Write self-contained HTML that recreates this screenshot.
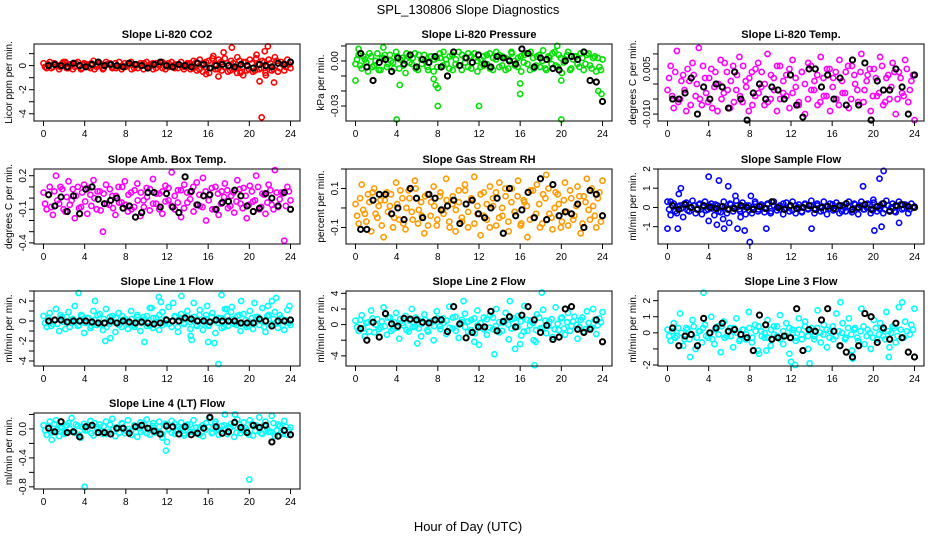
<!DOCTYPE html>
<html><head><meta charset="utf-8"><style>
body{margin:0;background:#fff;}
svg{display:block;font-family:"Liberation Sans",sans-serif;}
</style></head><body>
<svg id="chart" width="936" height="540" viewBox="0 0 936 540">
<text x="468" y="14" text-anchor="middle" font-size="13">SPL_130806  Slope Diagnostics</text>
<text x="468" y="531" text-anchor="middle" font-size="13">Hour of Day (UTC)</text>
<g id="panels"></g>
</svg>
<script>
// x-axis ticks
const xTicks=[0,4,8,12,16,20,24];
// CO2
const co2C=[0.2,-0.2,0.3,-0.1,0.1,-0.3,0.2,0.3,-0.2,0.1,-0.1,0.3,-0.3,0.2,0.1,-0.2,0.4,-0.1,0.2,-0.3,0.3,0.1,-0.2,0.2,-0.1,-0.3,0.2,0.1,0.3,-0.2,0.1,0.2,-0.3,0.3,-0.1,0.2,-0.2,0.1,0.3,-0.3,0.2,-0.1,0.1,-0.2,0.3,-0.1,0.2,-0.3,0.4,-0.4,0.5,-0.5,0.3,-0.6,0.6,-0.3,0.5,-0.4,0.6,-0.5,0.4,-0.3,0.7,-0.6,0.3,-0.4,0.5,-0.5,0.6,-0.3,0.4,-0.6,0.5,-0.4,0.7,-0.5,0.3,-0.4,0.5,-0.2];
const co2C2=[-0.1,0.1,-0.2,0.2,0,-0.1,0.3,-0.2,0.1,-0.3,0.2,0,-0.2,0.1,-0.1,0.2,-0.3,0.1,0,-0.2,0.1,0.2,-0.1,-0.2,0.3,0,-0.1,0.2,-0.3,0.1,-0.2,0,0.2,-0.1,0.1,-0.3,0.2,0,-0.2,0.1,-0.1,0.3,-0.2,0.1,0,-0.3,0.1,0.2,-0.2,0.3,-0.3,0.2,-0.1,0.4,-0.2,0.1,-0.3,0.3,-0.1,0.2,-0.4,0.2,-0.2,0.4,-0.1,0.3,-0.3,0.2,-0.4,0.1,-0.2,0.3,-0.1,0.2,-0.3,0.4,-0.2,0.1,-0.1,0.1];
const co2OutH=[17.5,18.3,17,21,21.2,21.5,21.8,22.4,21.6,15.8,19.4,20.7,16.5,18.8];
const co2OutV=[1.1,1.5,-0.9,-1.3,-4.3,1.2,1.6,-1.4,-0.8,-0.7,-0.8,0.9,0.8,-0.6];
const co2K=[0,0.1,0,-0.1,0.2,0,-0.1,0.1,0.3,0,0.1,0,-0.1,0.2,0.1,0,-0.2,0.1,0.3,0,-0.1,0.1,0,-0.1,0.2,0.1,-0.2,0,0.1,0,-0.1,0.1,0,-0.2,0.1,0,-0.1,0.2,0.1,0.3];
// Pressure
const pC=[-0.002,0.004,-0.005,0.001,-0.007,0.003,-0.003,0.005,-0.006,0.002,-0.004,0.004,-0.001,0.006,-0.005,0.002,-0.008,0.003,-0.002,0.005,-0.006,0.001,0.004,-0.004,0.003,-0.007,0.002,0.005,-0.003,0.001,-0.005,0.004,-0.002,0.006,-0.006,0.002,-0.004,0.003,0.005,-0.007,0.001,-0.003,0.004,-0.005,0.002,0.006,-0.004,0.003,-0.006,0.001,0.005,-0.003,0.002,-0.007,0.004,-0.002,0.006,-0.005,0.003,-0.004,0.007,-0.006,0.002,0.005,-0.003,0.004,-0.008,0.001,0.006,-0.005,0.003,-0.002,0.005,-0.006,0.004,-0.003,0.002,-0.007,-0.004,0.001];
const pC2=[0.001,-0.003,0.003,-0.001,0.005,-0.004,0,-0.006,0.002,0.004,-0.002,0,-0.005,0.003,0.001,-0.003,0.005,-0.001,0.002,-0.005,0.004,-0.002,0,-0.006,0.003,0.001,-0.004,0.002,0.006,-0.002,0.003,-0.006,0.001,-0.003,0.004,-0.001,0.005,-0.005,0.002,0,-0.004,0.003,-0.002,0.005,-0.006,0.001,0.004,-0.003,0.002,-0.005,0.006,0,-0.004,0.003,-0.001,0.005,-0.006,0.002,-0.003,0.004,0,-0.005,0.003,-0.002,0.006,-0.004,0.002,-0.001,0.004,-0.006,0.001,0.003,-0.004,0.002,-0.002,0.005,-0.005,0.003,0.002,-0.006];
const pOutH=[0,0.3,4,4.3,7.6,7.8,8,8,12,16,16,20,20,23.6,23.9,2.7,19.6];
const pOutV=[-0.013,0.008,-0.039,-0.016,-0.012,-0.016,-0.018,-0.03,-0.03,-0.015,-0.022,-0.039,-0.013,-0.02,-0.022,0.009,0.01];
const pK=[0.005,-0.004,-0.013,-0.001,0.001,-0.007,0.002,-0.002,0.004,-0.004,0.001,-0.001,0.003,-0.004,-0.01,0.006,-0.003,0.002,-0.001,0.004,-0.002,-0.004,0.003,0.002,0,-0.002,0.008,0.005,-0.004,0.002,0.001,-0.005,-0.006,0,0.003,0.001,0.006,-0.013,-0.014,-0.027];
// Li-820 Temp
const tC=[-0.002,0.006,-0.008,0.011,-0.005,0.003,-0.009,0.001,0.007,-0.004,0.012,-0.007,0.002,-0.006,0.005,-0.001,-0.009,0.008,-0.003,0.004,-0.008,0.006,-0.002,0.009,-0.006,0.001,-0.009,0.004,-0.004,0.007,-0.001,-0.007,0.010,-0.005,0.002,-0.009,0.006,-0.003,0.003,-0.008,0.008,-0.001,-0.006,0.004,-0.010,0.007,-0.002,0.001,-0.007,0.009,-0.004,0.005,-0.009,0.002,-0.005,0.008,-0.003,0.004,-0.008,0.006,0.000,-0.006,0.010,-0.002,0.003,-0.009,0.005,-0.004,0.009,-0.007,0.002,-0.005,0.007,-0.010,0.004,-0.003,0.008,-0.006,0.001,-0.012];
const tC2=[0.002,-0.004,0.004,-0.006,0.001,-0.002,0.005,-0.007,0.003,0,-0.005,0.006,-0.003,0.002,-0.008,0.004,0,-0.005,0.007,-0.002,0.001,-0.006,0.003,-0.004,0.006,-0.001,0.002,-0.007,0.005,-0.003,0.004,0,-0.006,0.003,-0.002,0.006,-0.005,0.001,-0.004,0.005,-0.003,0.002,-0.007,0.004,0,-0.005,0.006,-0.002,0.003,-0.006,0.002,-0.004,0.005,-0.001,0.004,-0.007,0.001,-0.003,0.006,-0.005,0.003,-0.002,0.004,-0.006,0.001,0.005,-0.004,0.002,-0.003,0.006,-0.006,0.003,-0.001,0.004,-0.005,0.002,-0.004,0.005,-0.002,0.003];
const tOutH=[],tOutV=[];
const tK=[-0.005,-0.005,-0.003,0.002,-0.010,-0.001,-0.005,0.000,-0.001,-0.008,0.004,-0.005,-0.012,-0.003,0.000,-0.005,-0.001,-0.002,-0.005,0.003,-0.007,-0.011,0.005,0.005,-0.001,0.003,-0.005,0.002,-0.007,0.008,-0.007,0.007,-0.012,0.001,-0.002,-0.002,0.005,-0.001,-0.010,0.003];
// Amb box temp
const aC=[0.05,-0.1,0.1,-0.15,0.2,-0.05,0.08,-0.12,0.15,-0.02,-0.18,0.1,-0.08,0.12,-0.14,0.03,0.16,-0.1,0.06,-0.3,0.12,-0.06,0.02,-0.15,0.1,-0.04,0.15,-0.12,0.05,-0.08,0.13,-0.16,-0.02,0.09,-0.11,0.17,-0.05,0.04,-0.14,0.11,-0.02,0.23,-0.1,0.07,-0.17,0.12,-0.04,0.05,-0.12,0.14,-0.07,0.18,-0.2,0.03,-0.1,0.1,-0.15,0.06,0.13,-0.09,0.02,-0.13,0.16,-0.05,0.09,-0.18,0.11,-0.03,0.2,-0.1,0.04,-0.14,0.12,-0.06,0.25,-0.08,0.05,-0.38,0.1,-0.02];
const aC2=[-0.05,0.03,-0.08,0.06,-0.02,0.1,-0.1,0.01,-0.06,0.08,0.02,-0.09,0.05,-0.03,0.09,-0.07,0,0.06,-0.11,0.04,-0.05,0.08,-0.09,0.02,-0.04,0.1,-0.06,0.03,-0.1,0.07,-0.02,0.05,-0.08,0.01,0.08,-0.05,0.04,-0.1,0.06,-0.03,0.09,-0.07,0.02,-0.04,0.07,-0.09,0.05,-0.01,0.1,-0.06,0.03,-0.08,0.06,-0.02,0.09,-0.1,0.04,-0.05,0.01,0.07,-0.07,0.05,-0.03,0.08,-0.09,0.02,-0.06,0.06,-0.02,0.1,-0.08,0.03,-0.04,0.07,-0.1,0.05,-0.01,0.04,-0.07,0.06];
const aOutH=[],aOutV=[];
const aK=[0.03,-0.07,0.01,-0.12,0.02,-0.14,0.08,0.1,-0.01,-0.05,-0.02,0,-0.09,-0.07,-0.17,-0.13,0.05,0.05,-0.08,0.04,-0.08,-0.13,0.19,0.06,-0.06,0.02,0.03,-0.1,-0.04,-0.03,0.07,0.02,-0.07,-0.12,-0.09,0.04,0,-0.07,0.05,-0.1];
// Gas stream RH
const gC=[0.02,-0.08,0.12,-0.03,0.07,-0.12,0.1,-0.05,0.04,-0.15,0.08,0.01,-0.1,0.13,-0.06,0.05,-0.11,0.09,-0.02,0.14,-0.08,0.03,-0.13,0.07,-0.04,0.11,-0.09,0.06,-0.01,0.15,-0.07,0.02,-0.12,0.09,-0.05,0.12,-0.1,0.04,0.16,-0.03,-0.14,0.08,-0.06,0.11,0.01,-0.09,0.13,-0.04,0.06,-0.12,0.1,-0.02,0.14,-0.08,0.03,-0.15,0.09,-0.05,0.12,-0.1,0.07,0.17,-0.03,-0.11,0.08,0.02,-0.07,0.13,-0.09,0.05,-0.04,0.11,-0.13,0.06,0.15,-0.06,0.01,-0.1,0.08,0.14];
const gC2=[-0.04,0.05,-0.01,-0.07,0.03,0.08,-0.03,0.01,-0.09,0.04,-0.02,0.07,-0.05,0.02,0.09,-0.08,0,0.05,-0.06,0.1,-0.01,-0.04,0.06,-0.09,0.03,0.01,-0.06,0.08,-0.03,0.04,-0.1,0.06,-0.01,0.03,-0.07,0.09,-0.02,0.05,-0.08,0.01,0.07,-0.04,0.02,-0.1,0.05,0.08,-0.05,0,0.1,-0.07,0.03,-0.02,0.06,-0.09,0.04,0.01,-0.06,0.09,-0.03,0.02,-0.08,0.05,0.1,-0.05,0,0.07,-0.1,0.04,-0.02,0.09,-0.06,0.01,0.06,-0.08,0.03,-0.01,0.1,-0.04,0.05,-0.07];
const gOutH=[],gOutV=[];
const gK=[-0.11,-0.11,0.04,0.07,0.07,-0.03,0,-0.06,0.1,0.05,-0.05,0.07,0.05,-0.01,0.01,0.04,-0.08,0.02,0.04,-0.03,-0.05,0,0.05,-0.13,0.1,-0.04,-0.01,0.08,-0.05,0.15,-0.06,0.12,-0.04,-0.02,-0.03,0.02,-0.1,0.09,0.07,-0.04];
// Sample flow
const sC=[0.3,-0.4,0.2,-0.3,0.1,-0.5,0.25,-0.2,0.35,-0.3,0.15,-0.35,0.3,-0.1,0.2,-0.4,0.1,-0.25,0.3,-0.3,0.2,-0.2,0.35,-0.1,0.25,-0.35,0.1,-0.3,0.3,-0.2,0.15,-0.25,0.2,-0.3,0.3,-0.15,0.1,-0.35,0.25,-0.2,0.3,-0.3,0.15,-0.25,0.2,-0.1,0.35,-0.3,0.1,-0.2,0.3,-0.35,0.2,-0.15,0.25,-0.3,0.1,-0.2,0.3,-0.25,0.15,-0.35,0.3,-0.1,0.2,-0.3,0.25,-0.2,0.1,-0.3,0.35,-0.15,0.2,-0.25,0.3,-0.1,0.15,-0.3,0.2,0.05];
const sC2=[-0.1,0.1,-0.2,0.05,-0.05,0.2,-0.15,0,0.1,-0.1,0.2,0,-0.15,0.1,-0.05,0.15,-0.2,0.05,0,-0.1,0.15,-0.05,0.1,-0.2,0.05,0.1,-0.15,0,0.2,-0.1,0.05,-0.05,0.15,-0.2,0.1,0,-0.1,0.2,-0.05,0.05,-0.15,0.1,0,-0.2,0.15,-0.05,0.1,-0.1,0.2,0,-0.15,0.05,-0.05,0.15,-0.1,0.1,-0.2,0,0.05,-0.15,0.2,-0.05,0.1,-0.1,0,0.15,-0.15,0.05,-0.05,0.2,-0.1,0.1,0,-0.2,0.05,0.15,-0.05,0.1,-0.1,0];
const sOutH=[0,0.3,1,1.1,1.3,4,4,4.8,5,5.4,5.5,5.9,6,6.6,6.8,7.1,7.5,8,8.1,9.6,14,19,20,20.1,20.6,20.8,21,22.5];
const sOutV=[-1.1,0.3,-1.1,0.7,1,-0.7,1.6,-0.9,1.4,-0.6,-1.1,1.1,-0.8,0.6,-1.1,-0.5,-1.2,-1.8,0.6,-1.1,-1.1,1.1,0.4,-1.2,1.5,-1.0,1.9,-0.8];
const sK=[0.1,-0.1,0.15,0,-0.1,0.1,0,-0.05,0.05,-0.1,-0.05,0.1,0,-0.1,0.05,-0.05,0.3,0,-0.1,0.1,-0.05,0,0.1,-0.1,0,0.05,-0.05,0.1,0.2,-0.1,0,0.15,-0.1,0.05,0.2,-0.2,0.1,0.15,0.05,0];
// Line 1
const l1C=[0.5,-0.6,0.8,-0.3,1.2,-1.0,0.4,-0.8,0.9,-0.2,1.5,-0.5,0.6,-1.2,0.3,-0.7,1.0,-0.4,0.7,-0.9,1.2,-0.3,0.5,-1.1,0.8,-0.6,0.2,-0.8,1.0,-0.4,0.6,-1.0,0.4,-0.5,1.3,-0.7,0.3,-0.9,0.9,-0.2,1.4,-0.6,0.5,-1.1,0.7,-0.3,1.0,-0.8,0.4,-0.5,1.1,-0.9,0.6,-0.4,0.8,-1.2,0.3,-0.7,1.2,-0.5,0.9,-0.3,0.5,-1.0,0.7,-0.6,1.0,-0.8,0.4,-0.4,1.3,-1.1,0.6,-0.5,0.9,-0.7,0.3,-0.9,1.1,-0.4];
const l1C2=[-0.2,0.3,-0.5,0.1,-0.3,0.6,-0.1,0.4,-0.6,0.2,0,-0.4,0.5,-0.2,0.3,-0.5,0.1,0.6,-0.3,0.2,-0.6,0.4,-0.1,0.3,-0.4,0.5,0,-0.3,0.2,-0.6,0.4,-0.2,0.1,0.5,-0.5,0.3,-0.1,0.6,-0.4,0.2,-0.3,0,0.4,-0.6,0.3,-0.2,0.5,-0.1,0.1,-0.4,0.6,-0.3,0.2,-0.5,0.4,0,-0.2,0.3,-0.6,0.5,-0.1,0.2,-0.4,0.6,-0.3,0.1,-0.5,0.3,-0.2,0.4,0,-0.6,0.5,-0.3,0.2,-0.1,0.6,-0.4,0.1,-0.2];
const l1OutH=[3.4,5,6,6.5,9.8,10.5,11.2,11.4,12.6,13.4,14.4,14.6,15.9,16.6,17,17.3,17.8,18.3,19.2,20.5,21.8,22.2,22.6,23.9,14.3,16];
const l1OutV=[2.8,2,-2,-1.7,-2.1,1.3,2.4,1.9,1.8,2.5,-1.9,1.8,1.5,-2.2,-4.3,2.6,1.2,1.4,2.0,1.8,1.5,2.0,2.3,1.5,-1.5,-2.1];
const l1K=[0,0.1,0.1,-0.1,0,0,0,-0.1,-0.2,-0.2,0,-0.2,0,-0.1,-0.2,-0.1,-0.2,-0.3,-0.2,0.1,0,0,0.3,0.2,0,0,-0.1,0.1,0,0,0,-0.2,-0.2,-0.2,0.2,0,-0.5,0,0,0.1];
// Line 2
const l2C=[0.5,-0.8,1.2,-1.5,0.3,1.8,-1.0,0.7,-0.4,2.2,-1.3,0.9,-0.6,1.5,-1.8,0.2,1.1,-0.9,2.0,-0.3,0.6,-1.5,1.3,-0.7,0.4,-2.0,1.7,-0.2,0.8,-1.2,2.3,-0.5,1.0,-1.7,0.3,1.4,-0.9,0.6,-2.2,1.8,-0.4,0.9,-1.3,1.2,-0.6,2.0,-1.0,0.2,1.5,-1.9,0.7,-0.3,1.1,-1.4,2.4,-0.8,0.5,-2.0,1.3,-0.5,1.9,-1.1,0.4,-1.6,2.2,-0.7,0.9,-1.3,1.5,-0.2,1.0,-1.8,0.6,-0.9,1.7,-0.4,2.0,-1.2,0.8,1.6];
const l2C2=[-0.3,0.6,-0.5,0.2,-0.9,0.8,0,-0.6,0.4,-0.2,0.9,-0.8,0.3,-0.4,0.7,-0.1,-0.7,0.5,-0.3,0.9,-0.5,0.1,0.6,-0.9,0.3,-0.2,0.8,-0.6,0.2,0.5,-0.4,0.9,-0.8,0,0.6,-0.3,0.4,-0.7,0.8,-0.1,0.2,-0.6,0.7,-0.4,0.9,-0.2,0.3,-0.8,0.5,0,-0.5,0.8,-0.3,0.4,-0.9,0.6,-0.1,0.2,-0.7,0.9,-0.4,0.5,-0.2,0.7,-0.6,0.1,0.8,-0.5,0.3,-0.8,0.4,0,-0.3,0.9,-0.6,0.2,-0.4,0.6,-0.1,0.3];
const l2OutH=[10.5,11.6,13.5,15,15.5,16,17.4,17.5,18.1,12,6];
const l2OutV=[3,-1.1,-3.8,3,-3.1,-2.5,-5.2,-2.2,4.1,-2.6,-2.4];
const l2K=[-0.5,-2.0,0.3,-1.6,1.4,0.1,-0.2,0.8,0.7,0.6,0.3,0.2,0.6,0.6,-0.9,2.3,0.1,-1.7,-1.0,-0.3,-0.3,1.7,-0.8,0.4,1.0,-0.3,1.2,2.3,0.6,-1.0,-0.1,-1.9,-1.6,2.0,2.3,-0.6,-1.0,-0.6,0.6,-2.2];
// Line 3
const l3C=[0.2,-0.5,0.6,-0.2,1.2,-0.8,0.3,-0.4,0.8,-1.0,0.1,-0.6,0.5,-0.3,1.0,-0.7,0.4,-1.2,0.7,-0.2,0.3,-0.9,0.9,-0.5,0.2,-0.4,1.3,-0.6,0.5,-1.1,0.1,-0.3,0.8,-0.8,0.4,-0.2,1.1,-0.7,0.6,-1.3,0.2,-0.5,0.9,-0.4,0.7,-1.0,0.3,-0.2,1.4,-0.6,0.5,-0.9,0.1,-0.4,1.2,-0.8,0.6,-0.3,0.9,-1.1,0.3,-0.5,1.5,-0.7,0.2,-1.0,0.8,-0.4,0.6,-0.2,1.3,-0.9,0.4,-0.6,1.6,-0.3,0.7,-1.2,0.5,1.5];
const l3C2=[-0.2,0.1,-0.3,0.3,0,-0.4,0.2,-0.1,0.4,-0.3,0.1,0.3,-0.2,0,-0.4,0.2,-0.1,0.4,-0.3,0.1,-0.2,0.3,0,-0.4,0.2,-0.1,0.3,-0.3,0.1,0.4,-0.2,0,-0.3,0.2,-0.1,0.4,-0.4,0.1,-0.2,0.3,0,-0.3,0.2,-0.1,0.4,-0.2,0.1,-0.4,0.3,0,-0.1,0.2,-0.3,0.4,-0.2,0.1,0,-0.4,0.3,-0.1,0.2,-0.3,0.1,0.4,-0.2,0,-0.3,0.3,-0.1,0.2,-0.4,0.1,0,0.3,-0.2,0.2,-0.3,0.1,-0.1,0.2];
const l3OutH=[3.5,2.2,8.9,9.6,12,12.4,13.8,16.8,18,21.5,22.8];
const l3OutV=[2.5,-1.5,-1.3,-1.1,-1.8,-2.0,-1.9,1.9,-1.6,-1.5,1.9];
const l3K=[0.3,-0.8,-0.2,-0.1,-0.8,0.9,0,0.3,0.6,0.1,0.2,-0.1,-0.3,-1.1,1.1,0.5,-0.4,-0.3,-0.2,-0.3,1.5,-1.1,0.2,0.1,0.8,1.5,0.1,-0.8,-1.2,-1.5,-0.8,1.2,1.0,-0.6,0.3,-0.4,0.6,-0.3,-1.2,-1.5];
// Line 4
const l4C=[0.05,-0.08,0.1,-0.03,0.12,-0.1,0.02,-0.06,0.08,0.15,-0.05,0.04,-0.12,0.07,-0.02,0.11,-0.09,0.03,0.06,-0.07,0.1,-0.04,0.14,-0.1,0.01,0.08,-0.06,0.12,-0.03,0.05,-0.11,0.09,-0.02,0.13,-0.08,0.04,-0.05,0.1,-0.12,0.07,-0.01,0.11,-0.07,0.03,0.09,-0.09,0.06,-0.04,0.12,-0.06,0.02,-0.1,0.08,0.15,-0.05,0.1,-0.08,0.04,0.2,-0.03,0.07,-0.11,0.13,-0.06,0.09,-0.02,0.12,-0.09,0.05,0.16,-0.07,0.1,-0.04,0.18,-0.1,0.06,-0.05,0.11,-0.08,0.02];
const l4C2=[-0.02,0.04,-0.05,0.07,-0.01,0.02,-0.07,0.05,0,-0.04,0.06,-0.08,0.03,-0.02,0.05,-0.06,0.08,0,-0.03,0.04,-0.07,0.06,-0.01,0.02,-0.05,0.07,-0.02,0,-0.08,0.04,0.02,-0.04,0.06,-0.06,0.01,0.08,-0.03,0.03,-0.07,0.05,0,-0.05,0.07,-0.02,0.01,-0.06,0.04,0.06,-0.04,0.02,-0.08,0.05,-0.01,0.03,-0.06,0.07,0,-0.03,0.05,-0.07,0.02,0.04,-0.05,0.06,-0.02,0.01,-0.08,0.07,-0.03,0.03,-0.06,0.05,0,-0.04,0.08,-0.02,0.04,-0.07,0.03,-0.01];
const l4OutH=[0.8,4,11.9,12,20,18.6];
const l4OutV=[-0.15,-0.8,-0.3,-0.18,-0.7,0.2];
const l4K=[0.01,-0.04,0.1,-0.05,-0.04,-0.11,0.03,0.05,-0.05,-0.05,-0.07,0.01,0.01,-0.06,0.03,0.05,0.01,-0.03,-0.07,0.04,0.03,-0.07,0.03,-0.08,-0.06,0.01,0.16,0.03,-0.06,-0.04,0.09,0.02,-0.05,0.05,0.02,0.05,-0.18,-0.1,-0.02,-0.08];

// tick arrays
const co2Ticks=[-4,-3,-2,-1,0,1], co2Labels=["-4","","-2","","0",""];
const pTicks=[-0.03,-0.02,-0.01,0,0.01], pLabels=["-0.03","","","0.00",""];
const tTicks=[-0.01,-0.005,0,0.005,0.01], tLabels=["-0.010","","","0.005",""];
const aTicks=[-0.4,-0.3,-0.2,-0.1,0,0.1,0.2], aLabels=["-0.4","","","-0.1","","","0.2"];
const gTicks=[-0.1,0,0.1,0.2], gLabels=["-0.1","","0.1",""];
const sTicks=[-1,0,1,2], sLabels=["-1","0","1","2"];
const l1Ticks=[-4,-3,-2,-1,0,1,2,3], l1Labels=["-4","","-2","","0","","2",""];
const l2Ticks=[-4,-2,0,2,4], l2Labels=["-4","","0","2","4"];
const l3Ticks=[-2,-1,0,1,2], l3Labels=["-2","","0","1","2"];
const l4Ticks=[-0.8,-0.6,-0.4,-0.2,0,0.2], l4Labels=["-0.8","","-0.4","","0.0",""];

const panels=[
 {name:"co2",title:"Slope Li-820 CO2",yl:"Licor ppm per min.",col:0,row:0,ymax:1.8,ymin:-4.6,color:"#ff0000",c:co2C,c2:co2C2,oh:co2OutH,ov:co2OutV,k:co2K,t:co2Ticks,tl:co2Labels},
 {name:"pressure",title:"Slope Li-820 Pressure",yl:"kPa per min.",col:1,row:0,ymax:0.0113,ymin:-0.04,color:"#00e000",c:pC,c2:pC2,oh:pOutH,ov:pOutV,k:pK,t:pTicks,tl:pLabels},
 {name:"li820-temp",title:"Slope Li-820 Temp.",yl:"degrees C per min.",col:2,row:0,ymax:0.0133,ymin:-0.0123,color:"#ff00ff",c:tC,c2:tC2,oh:tOutH,ov:tOutV,k:tK,t:tTicks,tl:tLabels},
 {name:"amb-box-temp",title:"Slope Amb. Box Temp.",yl:"degrees C per min.",col:0,row:1,ymax:0.26,ymin:-0.41,color:"#ff00ff",c:aC,c2:aC2,oh:aOutH,ov:aOutV,k:aK,t:aTicks,tl:aLabels},
 {name:"gas-rh",title:"Slope Gas Stream RH",yl:"percent per min.",col:1,row:1,ymax:0.2,ymin:-0.185,color:"#ff9a00",c:gC,c2:gC2,oh:gOutH,ov:gOutV,k:gK,t:gTicks,tl:gLabels},
 {name:"sample-flow",title:"Slope Sample Flow",yl:"ml/min per min.",col:2,row:1,ymax:2.0,ymin:-1.9,color:"#0000ff",c:sC,c2:sC2,oh:sOutH,ov:sOutV,k:sK,t:sTicks,tl:sLabels},
 {name:"line1-flow",title:"Slope Line 1 Flow",yl:"ml/min per min.",col:0,row:2,ymax:3.0,ymin:-4.5,color:"#00ffff",c:l1C,c2:l1C2,oh:l1OutH,ov:l1OutV,k:l1K,t:l1Ticks,tl:l1Labels},
 {name:"line2-flow",title:"Slope Line 2 Flow",yl:"ml/min per min.",col:1,row:2,ymax:4.3,ymin:-5.3,color:"#00ffff",c:l2C,c2:l2C2,oh:l2OutH,ov:l2OutV,k:l2K,t:l2Ticks,tl:l2Labels},
 {name:"line3-flow",title:"Slope Line 3 Flow",yl:"ml/min per min.",col:2,row:2,ymax:2.6,ymin:-2.06,color:"#00ffff",c:l3C,c2:l3C2,oh:l3OutH,ov:l3OutV,k:l3K,t:l3Ticks,tl:l3Labels},
 {name:"line4-flow",title:"Slope Line 4 (LT) Flow",yl:"ml/min per min.",col:0,row:3,ymax:0.22,ymin:-0.83,color:"#00ffff",c:l4C,c2:l4C2,oh:l4OutH,ov:l4OutV,k:l4K,t:l4Ticks,tl:l4Labels}
];
const colLeft=[34,346,658], W=266;
const rowTop=[44,169,291,413], rowBot=[121,244,366,489];
const NS="http://www.w3.org/2000/svg";
function mk(tag,attrs,parent){const e=document.createElementNS(NS,tag);for(const k in attrs)e.setAttribute(k,attrs[k]);parent.appendChild(e);return e;}
const root=document.getElementById("panels");
panels.forEach(p=>{
 const L=colLeft[p.col],T=rowTop[p.row],B=rowBot[p.row];
 const xs=h=>L+9.5+h*(247/24);
 const ys=v=>T+(p.ymax-v)/(p.ymax-p.ymin)*(B-T);
 const g=mk("g",{},root);
 
 
 const tt=mk("text",{x:L+W/2,y:T-6,"text-anchor":"middle","font-size":"11","font-weight":"bold"},g);
 tt.textContent=p.title;
 
 
 const yt=mk("text",{transform:`translate(${L-22},${(T+B)/2}) rotate(-90)`,"text-anchor":"middle","font-size":"10"},g);
 yt.textContent=p.yl;
 
 
 const pts=mk("g",{fill:"none","stroke-width":"1.6"},g);
 
 
 const n=p.c.length;
 p.c.forEach((v,i)=>{
  const c=mk("circle",{cx:xs(i*24/(n-1)),cy:ys(v),r:2.6,stroke:p.color},pts);
  
  
 });
 const n2=p.c2.length;
 p.c2.forEach((v,i)=>{
  const c=mk("circle",{cx:xs(0.15+i*23.7/(n2-1)),cy:ys(v),r:2.6,stroke:p.color},pts);
  
  
 });
 p.oh.forEach((h,i)=>{
  const c=mk("circle",{cx:xs(h),cy:ys(p.ov[i]),r:2.6,stroke:p.color},pts);
  
  
 });
 const m=p.k.length;
 p.k.forEach((v,i)=>{
  const c=mk("circle",{cx:xs(0.5+i*23.5/(m-1)),cy:ys(v),r:2.6,stroke:"#000","stroke-width":"2"},pts);
  
  
 });
 const box=mk("rect",{x:L,y:T,width:W,height:B-T,fill:"none",stroke:"#000","stroke-width":"1"},g);
 
 
 xTicks.forEach(h=>{
  mk("line",{x1:xs(h),x2:xs(h),y1:B,y2:B+5,stroke:"#000"},g);
  const tx=mk("text",{x:xs(h),y:B+16,"text-anchor":"middle","font-size":"10"},g);
  tx.textContent=h;
  
  
 });
 p.t.forEach((v,i)=>{
  mk("line",{x1:L-5,x2:L,y1:ys(v),y2:ys(v),stroke:"#000"},g);
  if(p.tl[i]){
   const tx=mk("text",{transform:`translate(${L-8},${ys(v)}) rotate(-90)`,"text-anchor":"middle","font-size":"10"},g);
   tx.textContent=p.tl[i];
   
   
  }
 });
});
</script>
</body></html>
